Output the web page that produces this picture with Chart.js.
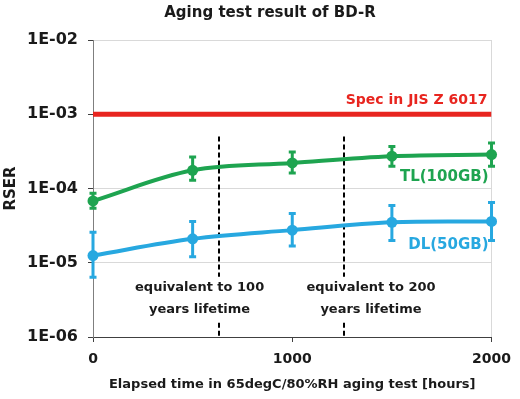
<!DOCTYPE html>
<html>
<head>
<meta charset="utf-8">
<script src="https://cdn.jsdelivr.net/npm/chart.js@4/dist/chart.umd.min.js"></script>
<style>
  html, body { margin: 0; padding: 0; background: #fff; }
  #wrap { width: 520px; height: 399px; position: relative; }
</style>
</head>
<body>
<div id="wrap"><canvas id="chart"></canvas></div>
<script>
// aging test data (log scale)
const HOURS = [0, 500, 1000, 1500, 2000];
const TL = [6.8e-5, 1.76e-4, 2.21e-4, 2.72e-4, 2.86e-4];
const TL_HIGH = [8.6e-5, 2.66e-4, 3.1e-4, 3.68e-4, 4.1e-4];
const TL_LOW = [5.4e-5, 1.29e-4, 1.62e-4, 2.0e-4, 2.0e-4];
const DL = [1.25e-5, 2.1e-5, 2.75e-5, 3.5e-5, 3.6e-5];
const DL_HIGH = [2.58e-5, 3.6e-5, 4.6e-5, 5.9e-5, 6.5e-5];
const DL_LOW = [6.4e-6, 1.2e-5, 1.68e-5, 2.0e-5, 2.0e-5];
const SPEC = 1e-3;
const SPEC_RANGE = [0, 2000];
const MILESTONES = [630, 1260];
const MILESTONE_NOTES = [
  ["equivalent to 100", "years lifetime"],
  ["equivalent to 200", "years lifetime"],
];
const X_TICKS = [0, 1000, 2000];
const X_TICK_LABELS = ["0", "1000", "2000"];
const Y_TICKS = [1e-6, 1e-5, 1e-4, 1e-3, 1e-2];
const Y_TICK_LABELS = ["1E-06", "1E-05", "1E-04", "1E-03", "1E-02"];

const COLORS = {
  tl: "#1ea450",
  dl: "#27a8e0",
  spec: "#e8251f",
  text: "#1a1a1a",
  grid: "#d9d9d9",
};
const FONT = "'DejaVu Sans', Verdana, sans-serif";

Chart.defaults.font.family = FONT;
Chart.defaults.color = COLORS.text;

const pts = (vals) => HOURS.map((h, i) => ({ x: h, y: vals[i] }));

// error bars drawn from the errHigh/errLow arrays on each dataset
const errorBars = {
  id: "errorBars",
  afterDatasetsDraw(chart) {
    const { ctx, scales: { x, y } } = chart;
    chart.data.datasets.forEach((ds) => {
      if (!ds.errHigh) return;
      ctx.save();
      ctx.strokeStyle = ds.borderColor;
      ctx.lineWidth = 3;
      ds.data.forEach((p, i) => {
        const px = x.getPixelForValue(p.x);
        const top = y.getPixelForValue(ds.errHigh[i]);
        const bot = y.getPixelForValue(ds.errLow[i]);
        ctx.beginPath();
        ctx.moveTo(px, top); ctx.lineTo(px, bot);
        ctx.moveTo(px - 3.5, top); ctx.lineTo(px + 3.5, top);
        ctx.moveTo(px - 3.5, bot); ctx.lineTo(px + 3.5, bot);
        ctx.stroke();
      });
      ctx.restore();
    });
  },
};

// dashed milestone lines + notes, series labels, title
const notes = {
  id: "notes",
  beforeDatasetsDraw(chart) {
    const { ctx, scales: { x, y } } = chart;
    ctx.save();
    ctx.strokeStyle = "#000";
    ctx.lineWidth = 2;
    ctx.setLineDash([5, 3]);
    MILESTONES.forEach((h) => {
      const px = Math.round(x.getPixelForValue(h));
      ctx.beginPath();
      ctx.moveTo(px, y.getPixelForValue(5e-4));
      ctx.lineTo(px, y.getPixelForValue(6.5e-6));
      ctx.moveTo(px, y.getPixelForValue(1.55e-6));
      ctx.lineTo(px, y.bottom);
      ctx.stroke();
    });
    ctx.restore();
  },
  afterDraw(chart) {
    const { ctx, scales: { x, y } } = chart;
    ctx.save();
    ctx.textBaseline = "middle";

    ctx.textAlign = "center";
    ctx.fillStyle = COLORS.text;
    ctx.font = `bold 15px ${FONT}`;
    ctx.fillText("Aging test result of BD-R", 270, 13);

    ctx.font = `bold 13px ${FONT}`;
    const noteX = [535, 1395];
    MILESTONE_NOTES.forEach((lines, i) => {
      const px = x.getPixelForValue(noteX[i]);
      const py = y.getPixelForValue(4.6e-6);
      lines.forEach((t, j) => ctx.fillText(t, px, py + j * 22));
    });

    ctx.textAlign = "right";
    const right = x.getPixelForValue(2000) - 3;
    ctx.font = `bold 14px ${FONT}`;
    ctx.fillStyle = COLORS.spec;
    ctx.fillText("Spec in JIS Z 6017", right - 1, y.getPixelForValue(1.56e-3));
    ctx.font = `bold 15px ${FONT}`;
    ctx.fillStyle = COLORS.tl;
    ctx.fillText("TL(100GB)", right, y.getPixelForValue(1.43e-4));
    ctx.fillStyle = COLORS.dl;
    ctx.fillText("DL(50GB)", right, y.getPixelForValue(1.73e-5));
    ctx.restore();
  },
};

const lineStyle = (color) => ({
  borderColor: color,
  backgroundColor: color,
  borderWidth: 4,
  pointRadius: 5.5,
  pointHoverRadius: 5.5,
  pointBorderWidth: 0,
  tension: 0.35,
  fill: false,
  clip: false,
});

new Chart(document.getElementById("chart"), {
  type: "line",
  data: {
    datasets: [
      {
        label: "Spec",
        data: SPEC_RANGE.map((h) => ({ x: h, y: SPEC })),
        borderColor: COLORS.spec,
        borderWidth: 5,
        pointRadius: 0,
        fill: false,
      },
      { label: "TL(100GB)", data: pts(TL), errHigh: TL_HIGH, errLow: TL_LOW, ...lineStyle(COLORS.tl) },
      { label: "DL(50GB)", data: pts(DL), errHigh: DL_HIGH, errLow: DL_LOW, ...lineStyle(COLORS.dl) },
    ],
  },
  options: {
    responsive: true,
    maintainAspectRatio: false,
    animation: false,
    layout: { padding: { top: 40, right: 27, left: 0, bottom: 0 } },
    plugins: {
      legend: { display: false },
      tooltip: { enabled: false },
    },
    scales: {
      x: {
        type: "linear",
        min: 0,
        max: 2000,
        afterBuildTicks: (s) => { s.ticks = X_TICKS.map((v) => ({ value: v })); },
        afterFit: (s) => { s.height = 62; },
        ticks: {
          callback: (v, i) => X_TICK_LABELS[i],
          font: { size: 14, weight: "bold" },
          padding: 9,
          color: COLORS.text,
        },
        grid: {
          color: (c) => (c.index === X_TICKS.length - 1 ? COLORS.grid : "rgba(0,0,0,0)"),
          tickColor: "#404040",
          tickLength: 5,
        },
        border: { color: "#404040", width: 1 },
        title: {
          display: true,
          text: "Elapsed time in 65degC/80%RH aging test [hours]",
          font: { size: 13, weight: "bold" },
          color: COLORS.text,
          padding: { top: 0, bottom: 7 },
        },
      },
      y: {
        type: "logarithmic",
        min: 1e-6,
        max: 1e-2,
        afterBuildTicks: (s) => { s.ticks = Y_TICKS.map((v) => ({ value: v, major: true })); },
        afterFit: (s) => { s.width = 93; },
        ticks: {
          callback: (v, i) => Y_TICK_LABELS[i],
          font: { size: 16, weight: "bold" },
          padding: 10,
          color: COLORS.text,
        },
        grid: { color: COLORS.grid, tickColor: "#404040", tickLength: 5 },
        border: { color: "#7f7f7f", width: 1 },
        title: {
          display: true,
          text: "RSER",
          font: { size: 15, weight: "bold" },
          color: COLORS.text,
          padding: { top: 2, bottom: 0 },
        },
      },
    },
  },
  plugins: [errorBars, notes],
});
</script>
</body>
</html>
